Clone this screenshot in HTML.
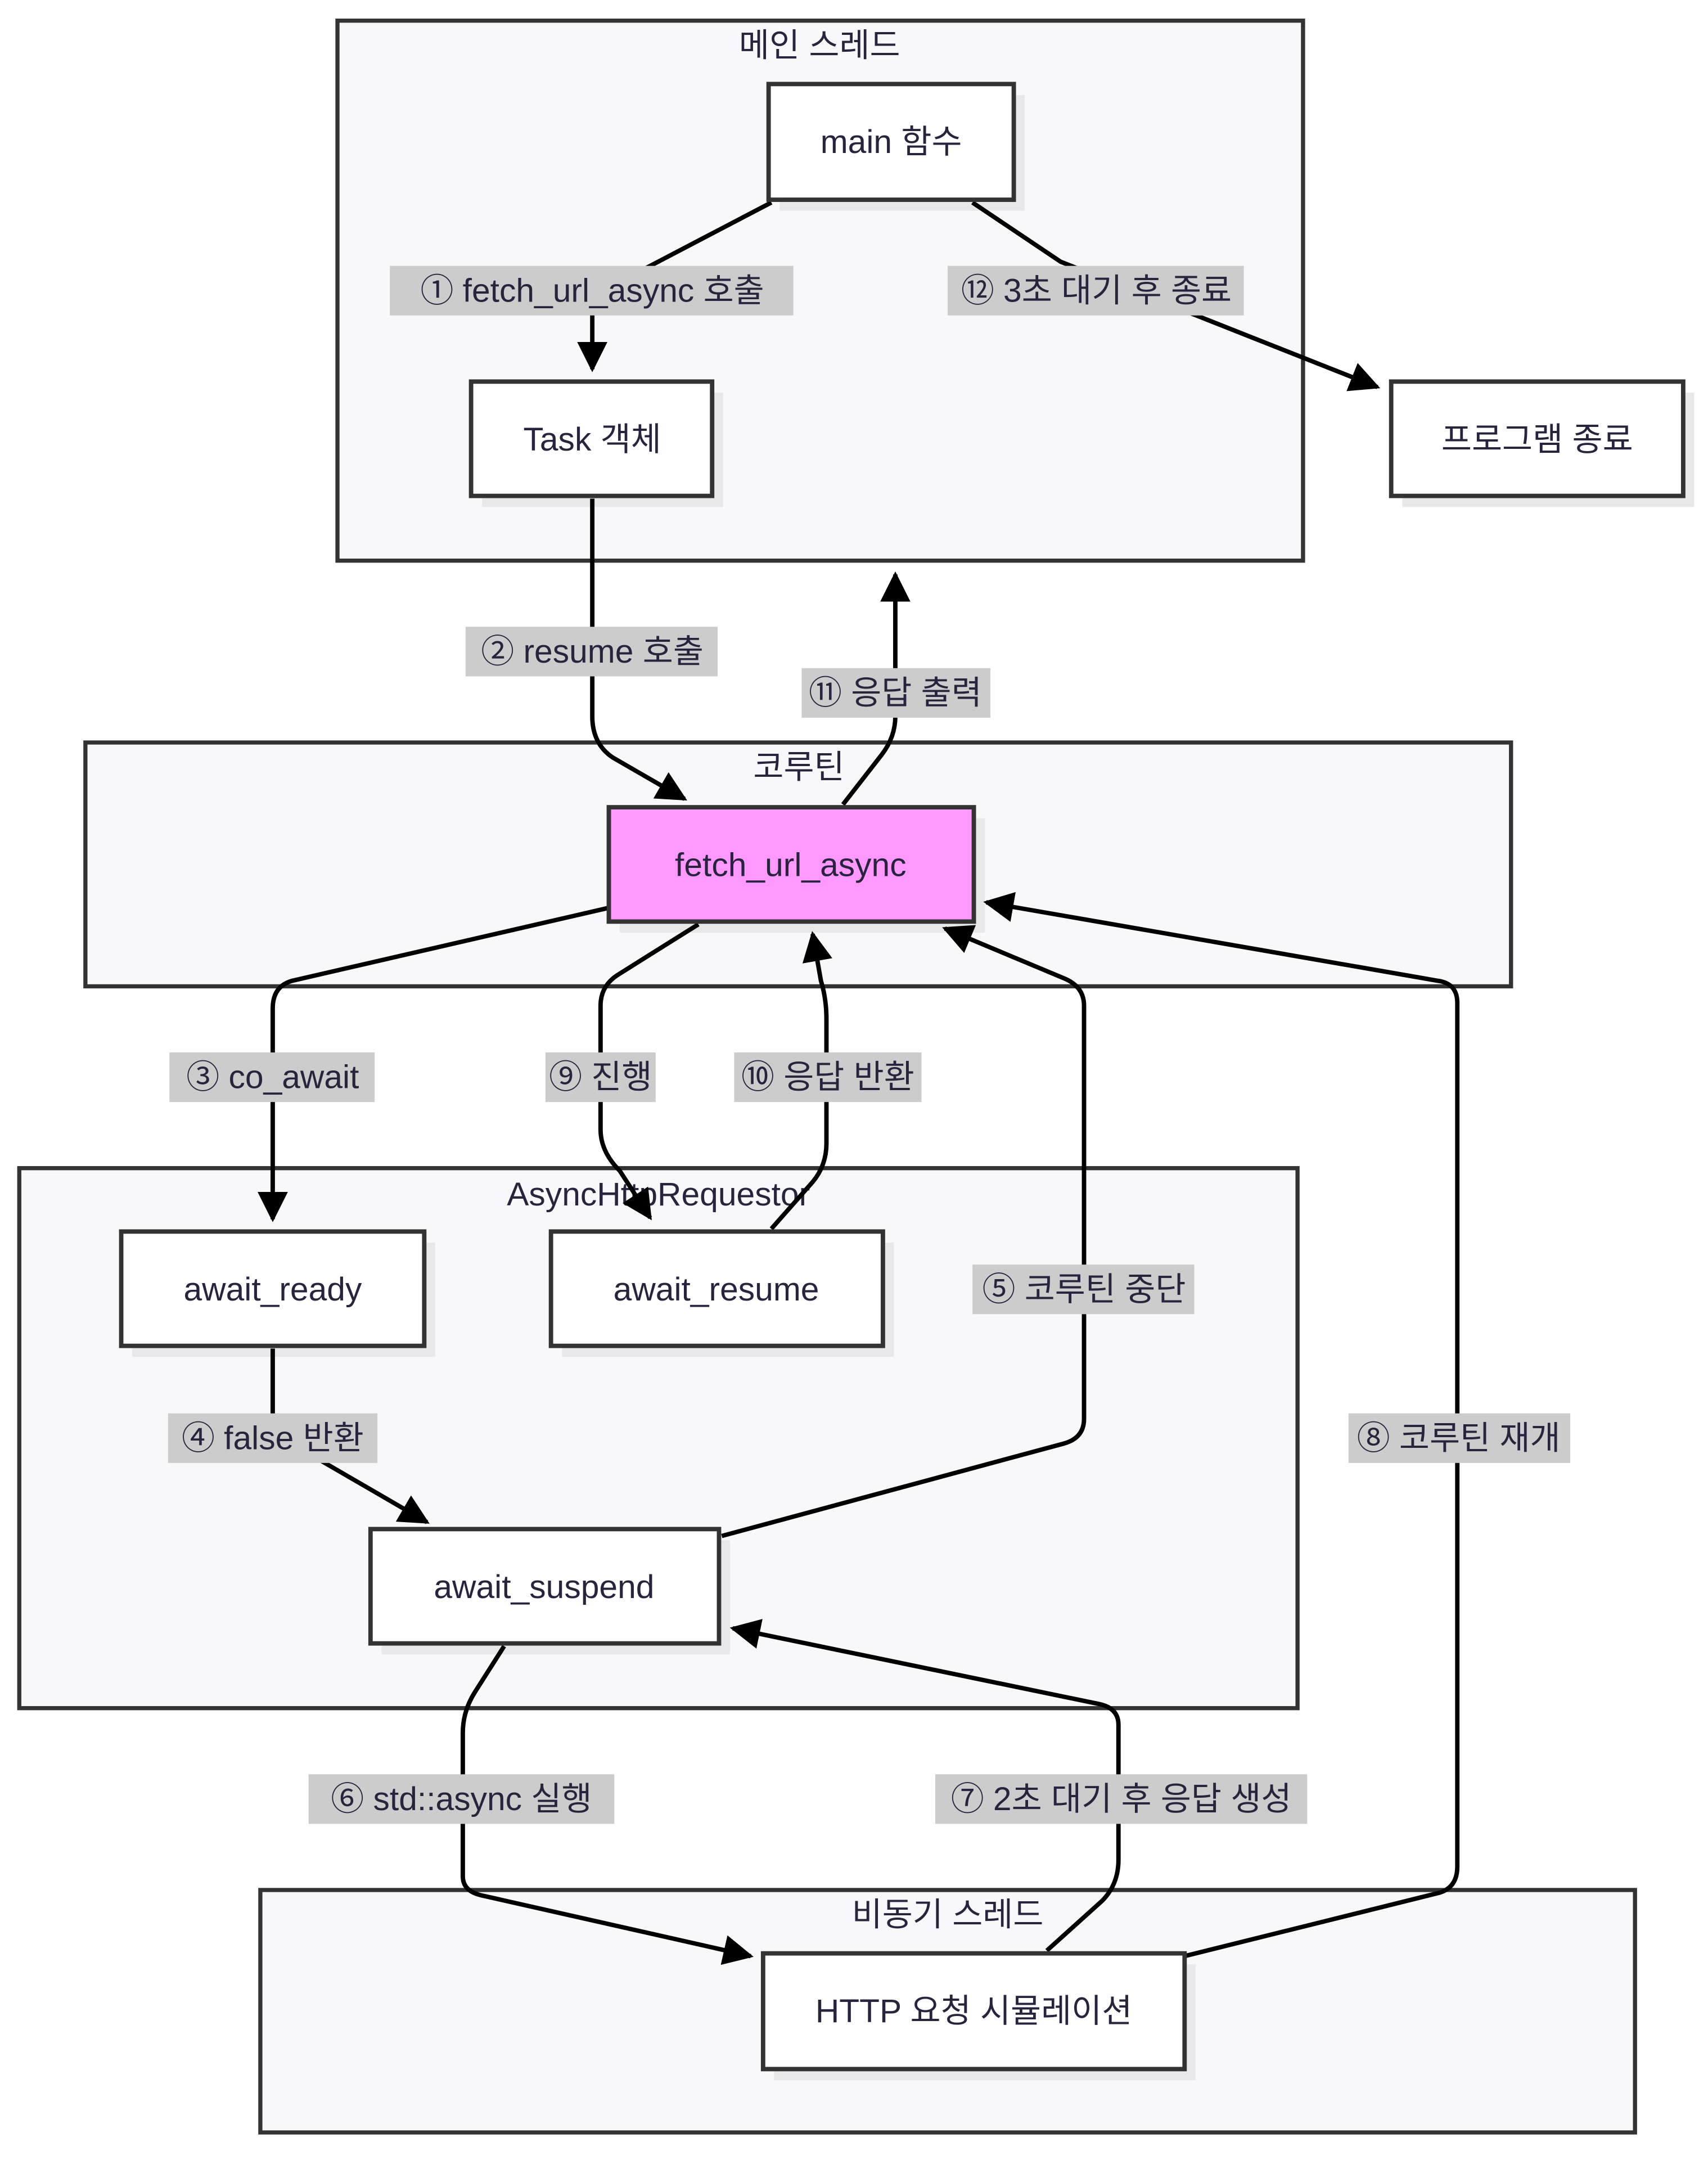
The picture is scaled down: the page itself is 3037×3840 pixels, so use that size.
<!DOCTYPE html>
<html><head><meta charset="utf-8"><style>
html,body{margin:0;padding:0;background:#fff;}
svg{display:block;}
text{font-family:"Liberation Sans","Noto Sans CJK KR",sans-serif;fill:#28243d;}
</style></head><body>
<svg width="3037" height="3840" viewBox="0 0 1240 1568" preserveAspectRatio="none" xmlns="http://www.w3.org/2000/svg">
<defs>
<marker id="a" viewBox="0 0 10 10" refX="9" refY="5" markerWidth="22" markerHeight="22" markerUnits="userSpaceOnUse" orient="auto">
<path d="M0,0 L10,5 L0,10 z" fill="#000"/></marker>
</defs>
<rect width="1240" height="1568" fill="#fff"/>
<g fill="#f8f8fa" stroke="#333" stroke-width="3">
<rect x="245" y="15" width="701" height="392"/>
<rect x="62" y="539" width="1035" height="177"/>
<rect x="14" y="848" width="928" height="392"/>
<rect x="189" y="1372" width="998" height="176"/>
</g>
<g font-size="24" text-anchor="middle">
<text x="595" y="41">메인 스레드</text>
<text x="580" y="565">코루틴</text>
<text x="478" y="875">AsyncHttpRequestor</text>
<text x="688" y="1398">비동기 스레드</text>
</g>
<!-- shadows -->
<g fill="#e8e8ea">
<rect x="566" y="69" width="178" height="84"/>
<rect x="350" y="285" width="175" height="83"/>
<rect x="1018" y="285" width="212" height="83"/>
<rect x="450" y="594" width="265" height="83"/>
<rect x="96" y="902" width="220" height="83"/>
<rect x="408" y="902" width="241" height="83"/>
<rect x="277" y="1118" width="253" height="83"/>
<rect x="562" y="1426" width="306" height="84"/>
</g>
<!-- edges -->
<g fill="none" stroke="#000" stroke-width="3.2" marker-end="url(#a)">
<path d="M560,147 L430,215 L430,268"/>
<path d="M706,147 L770,190 L1000,281"/>
<path d="M430,362 L430,520 Q430,540 445,550 L497,580"/>
<path d="M612,584 L640,548 Q650,535 650,520 L650,417"/>
<path d="M442,659 L212,712 Q198,716 198,732 L198,885"/>
<path d="M507,671 L448,708 Q436,716 436,730 L436,820 Q436,836 450,850 L472,884"/>
<path d="M560,892 L590,858 Q600,846 600,830 L600,740 Q600,725 596,712 L590,678"/>
<path d="M198,979 L198,1040 L310,1105"/>
<path d="M524,1115 L772,1048 Q787,1044 787,1030 L787,730 Q787,716 772,710 L686,674"/>
<path d="M366,1195 L345,1228 Q336,1242 336,1258 L336,1362 Q336,1373 350,1376 L545,1420"/>
<path d="M760,1416 L800,1380 Q812,1368 812,1350 L812,1252 Q812,1240 798,1237 L532,1182"/>
<path d="M860,1420 L1045,1374 Q1058,1370 1058,1355 L1058,728 Q1058,714 1044,712 L716,655"/>
</g>
<!-- nodes -->
<g stroke="#333" stroke-width="3.2" fill="#fff">
<rect x="558" y="61" width="178" height="84"/>
<rect x="342" y="277" width="175" height="83"/>
<rect x="1010" y="277" width="212" height="83"/>
<rect x="442" y="586" width="265" height="83" fill="#ff99ff"/>
<rect x="88" y="894" width="220" height="83"/>
<rect x="400" y="894" width="241" height="83"/>
<rect x="269" y="1110" width="253" height="83"/>
<rect x="554" y="1418" width="306" height="84"/>
</g>
<g font-size="24" text-anchor="middle">
<text x="647" y="111">main 함수</text>
<text x="430" y="327">Task 객체</text>
<text x="1116" y="327">프로그램 종료</text>
<text x="574" y="636">fetch_url_async</text>
<text x="198" y="944">await_ready</text>
<text x="520" y="944">await_resume</text>
<text x="395" y="1160">await_suspend</text>
<text x="707" y="1468">HTTP 요청 시뮬레이션</text>
</g>
<!-- labels -->
<g fill="#cccccc">
<rect x="283" y="193" width="293" height="36"/>
<rect x="688" y="193" width="215" height="36"/>
<rect x="338" y="455" width="183" height="36"/>
<rect x="582" y="485" width="137" height="36"/>
<rect x="123" y="764" width="149" height="36"/>
<rect x="396" y="764" width="80" height="36"/>
<rect x="533" y="764" width="136" height="36"/>
<rect x="706" y="918" width="161" height="36"/>
<rect x="122" y="1026" width="152" height="36"/>
<rect x="979" y="1026" width="161" height="36"/>
<rect x="224" y="1288" width="222" height="36"/>
<rect x="679" y="1288" width="270" height="36"/>
</g>
<g font-size="24" text-anchor="middle">
<text x="430" y="219">① fetch_url_async 호출</text>
<text x="796" y="219">⑫ 3초 대기 후 종료</text>
<text x="430" y="481">② resume 호출</text>
<text x="650" y="511">⑪ 응답 출력</text>
<text x="198" y="790">③ co_await</text>
<text x="436" y="790">⑨ 진행</text>
<text x="601" y="790">⑩ 응답 반환</text>
<text x="787" y="944">⑤ 코루틴 중단</text>
<text x="198" y="1052">④ false 반환</text>
<text x="1059" y="1052">⑧ 코루틴 재개</text>
<text x="335" y="1314">⑥ std::async 실행</text>
<text x="814" y="1314">⑦ 2초 대기 후 응답 생성</text>
</g>
</svg>
</body></html>
